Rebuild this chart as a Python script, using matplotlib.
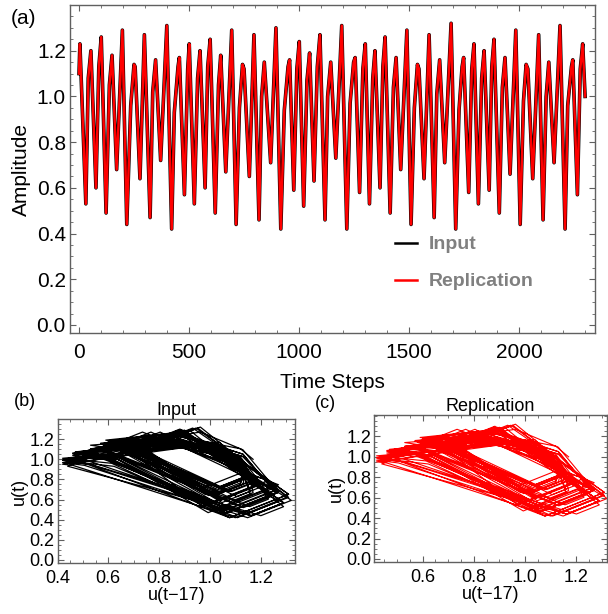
import numpy as np
import matplotlib.pyplot as plt
from matplotlib.ticker import MultipleLocator

plt.rcParams['font.family'] = ['Liberation Sans', 'DejaVu Sans']

# Key points (peaks, shoulders, troughs)
time_steps = [0, 4, 31, 42, 54, 77, 90, 101, 123, 138, 150, 171, 197, 217,
              235, 250, 255, 277, 297, 323, 335, 348, 371, 399, 421, 433, 450, 456,
              479, 494, 501, 524, 539, 550, 573, 585, 596, 619, 634, 644, 667, 694,
              714, 729, 743, 750, 774,
              795, 818, 830, 842, 871, 895, 917, 933, 950, 957, 976, 990, 1001,
              1021, 1036, 1048, 1068, 1083, 1095, 1118, 1130, 1144, 1167, 1194,
              1217, 1232, 1248, 1255, 1275, 1290, 1301, 1320,
              1335, 1345, 1368, 1381, 1391, 1414, 1429, 1441, 1462, 1490, 1509,
              1524, 1538, 1545, 1568, 1591, 1614, 1626, 1639, 1662, 1691, 1712,
              1727, 1741, 1748, 1771, 1785, 1795, 1815, 1830, 1841,
              1864, 1876, 1886, 1910, 1924, 1936, 1959, 1985, 2005, 2020, 2032,
              2040, 2062, 2089, 2109, 2123, 2135, 2159, 2186, 2209, 2221, 2238,
              2244, 2265, 2278, 2289, 2300]
amplitude = [1.10, 1.23, 0.53, 1.08, 1.20, 0.60, 1.13, 1.26, 0.49, 1.05, 1.18, 0.68, 1.29, 0.44,
             0.96, 1.14, 1.13, 0.64, 1.27, 0.47, 1.02, 1.16, 0.72, 1.31, 0.42, 0.93, 1.13, 1.17,
             0.57, 1.12, 1.23, 0.53, 1.08, 1.20, 0.60, 1.13, 1.25, 0.49, 1.05, 1.18, 0.67, 1.29,
             0.44, 0.95, 1.14, 1.12, 0.65,
             1.27, 0.46, 1.00, 1.15, 0.71, 1.30, 0.42, 0.94, 1.13, 1.16, 0.59, 1.12, 1.24,
             0.52, 1.07, 1.19, 0.63, 1.13, 1.27, 0.46, 1.00, 1.15, 0.73, 1.31,
             0.42, 0.97, 1.15, 1.17, 0.58, 1.12, 1.23, 0.53,
             1.08, 1.20, 0.60, 1.13, 1.26, 0.49, 1.04, 1.17, 0.68, 1.29, 0.44,
             0.95, 1.14, 1.12, 0.64, 1.27, 0.47, 1.01, 1.16, 0.71, 1.32, 0.42,
             0.94, 1.13, 1.17, 0.58, 1.12, 1.23, 0.53, 1.08, 1.20,
             0.59, 1.13, 1.25, 0.49, 1.04, 1.17, 0.66, 1.29, 0.44, 0.98, 1.14,
             1.12, 0.64, 1.27, 0.46, 1.00, 1.15, 0.71, 1.31, 0.42, 0.96, 1.13,
             1.16, 0.57, 1.12, 1.23, 1.00]
delay = 17

t = np.array(time_steps, dtype=float)
u = np.array(amplitude)

# delay embedding of the drawn polyline: vertices are the key times and key times + delay
tt = np.union1d(t, t + delay)
tt = tt[(tt >= t[0] + delay) & (tt <= t[-1])]
u_now = np.interp(tt, t, u)
u_lag = np.interp(tt - delay, t, u)

frame_col = '#606060'
label_gray = '#808080'


def style_axes(ax, fs, pad=3):
    for s in ax.spines.values():
        s.set_color(frame_col)
        s.set_linewidth(1.0)
    ax.tick_params(which='both', direction='in', top=True, right=True,
                   color=frame_col, labelsize=fs, pad=pad)
    ax.tick_params(which='major', length=4.5, width=0.8)
    ax.tick_params(which='minor', length=2.5, width=0.6)


fig = plt.figure(figsize=(6.08, 6.14), dpi=100)

# (a) time series
ax = fig.add_axes([70 / 608, 1 - 333 / 614, 525 / 608, 328 / 614])
ax.plot(t, u, color='black', lw=2.6, label='Input')
ax.plot(t, u, color='red', lw=1.8, label='Replication')
ax.set_xlim(-41, 2345)
ax.set_ylim(-0.035, 1.40)
ax.xaxis.set_major_locator(MultipleLocator(500))
ax.xaxis.set_minor_locator(MultipleLocator(100))
ax.yaxis.set_minor_locator(MultipleLocator(0.05))
ax.set_yticks(np.arange(0, 1.21, 0.2))
ax.yaxis.set_major_formatter(plt.FuncFormatter(lambda v, p: f'{v:.1f}'))
style_axes(ax, 15)
ax.tick_params(axis='x', pad=7)
ax.set_xlabel('Time Steps', fontsize=15, labelpad=8)
ax.set_ylabel('Amplitude', fontsize=15, labelpad=4)
leg = ax.legend(frameon=False, loc='upper left', bbox_to_anchor=(0.605, 0.32),
                borderaxespad=0, handlelength=1.1, handletextpad=0.6,
                labelspacing=1.0, prop={'weight': 'bold', 'size': 14})
for txt in leg.get_texts():
    txt.set_color(label_gray)
for h in leg.legend_handles:
    h.set_linewidth(1.8)
fig.text(24 / 608, 1 - 19 / 614, '(a)', fontsize=15, ha='center', va='center')

# (b) input phase portrait
axb = fig.add_axes([57.5 / 608, 1 - 563 / 614, 237.5 / 608, 144 / 614])
axb.plot(u_lag, u_now, color='black', lw=0.9)
axb.set_xlim(0.40, 1.335)
axb.set_ylim(-0.03, 1.40)
axb.set_xticks([0.4, 0.6, 0.8, 1.0, 1.2])
axb.set_yticks(np.arange(0, 1.21, 0.2))

# (c) replication phase portrait
axc = fig.add_axes([374 / 608, 1 - 562 / 614, 233 / 608, 147 / 614])
axc.plot(u_lag, u_now, color='red', lw=0.8)
axc.set_xlim(0.41, 1.32)
axc.set_ylim(-0.03, 1.41)
axc.set_xticks([0.6, 0.8, 1.0, 1.2])
axc.set_yticks(np.arange(0, 1.21, 0.2))

for a, title in [(axb, 'Input'), (axc, 'Replication')]:
    a.xaxis.set_minor_locator(MultipleLocator(0.05))
    a.yaxis.set_minor_locator(MultipleLocator(0.05))
    a.xaxis.set_major_formatter(plt.FuncFormatter(lambda v, p: f'{v:.1f}'))
    a.yaxis.set_major_formatter(plt.FuncFormatter(lambda v, p: f'{v:.1f}'))
    style_axes(a, 13, pad=2)
    a.tick_params(axis='x', pad=5)
    a.set_title(title, fontsize=13, pad=3)
    a.set_xlabel('u(t\u221217)', fontsize=13, labelpad=0)
    a.set_ylabel('u(t)', fontsize=13, labelpad=1)

fig.text(25 / 608, 1 - 401 / 614, '(b)', fontsize=13, ha='center', va='center')
fig.text(325 / 608, 1 - 403 / 614, '(c)', fontsize=13, ha='center', va='center')

fig.savefig('out.png', dpi=100)
